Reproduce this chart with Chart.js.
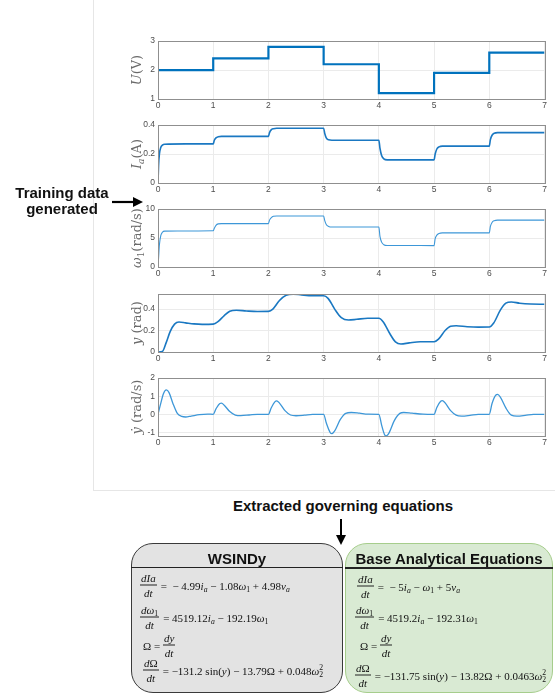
<!DOCTYPE html>
<html>
<head>
<meta charset="utf-8">
<script src="https://cdn.jsdelivr.net/npm/chart.js@4.4.1/dist/chart.umd.min.js"></script>
<style>
  html, body { margin: 0; padding: 0; background: #fff; }
  body { width: 555px; height: 697px; position: relative; overflow: hidden; font-family: "Liberation Sans", Arial, sans-serif; }
  .panel { position: absolute; left: 93px; top: -2px; width: 470px; height: 492px; border-left: 1px solid #e6e6e6; border-bottom: 1px solid #e6e6e6; }
  canvas.plot { position: absolute; left: 100px; }
  .lbl { position: absolute; font-weight: bold; font-size: 15px; color: #111; text-align: center; line-height: 16px; white-space: nowrap; }
  .box { position: absolute; top: 543px; height: 150px; border-radius: 22px; box-sizing: border-box; }
  .grey { left: 131px; width: 212px; background: #e3e3e3; border: 1.5px solid #3a3a3a; }
  .green { left: 345px; width: 208px; background: #d9ead3; border: 1.5px solid #a6cd8c; }
  .rule { position: absolute; height: 1.5px; background: #222; }
  .eq { position: absolute; display: flex; align-items: center; transform: translateY(-50%);
        font-family: "Liberation Serif", "DejaVu Serif", serif; font-size: 11px; color: #111; white-space: nowrap; }
  .eq i { font-style: italic; }
  .frac { display: inline-flex; flex-direction: column; align-items: center; margin-right: 4px; line-height: 12px; }
  .frac > span:first-child { border-bottom: 0.8px solid #222; padding: 0 1px 1px; }
  .frac > span:last-child { padding-top: 1px; }
  .eq sub { font-size: 70%; vertical-align: -0.3em; line-height: 0; }
  .ss { display: inline-flex; flex-direction: column; font-size: 70%; line-height: 7px; vertical-align: middle; }
  .txt { white-space: pre; }
</style>
</head>
<body>
<div class="panel"></div>

<canvas id="cU" class="plot" width="455" height="84" style="top:33px"></canvas>
<canvas id="cIa" class="plot" width="455" height="84" style="top:117px"></canvas>
<canvas id="cW" class="plot" width="455" height="84" style="top:201px"></canvas>
<canvas id="cY" class="plot" width="455" height="84" style="top:286px"></canvas>
<canvas id="cYd" class="plot" width="455" height="84" style="top:370px"></canvas>

<div class="lbl" style="left:2px;top:185px;width:120px">Training data<br>generated</div>
<div class="lbl" style="left:200px;top:498px;width:286px">Extracted governing equations</div>

<svg width="555" height="697" style="position:absolute;left:0;top:0;pointer-events:none">
  <line x1="112" y1="202" x2="136" y2="202" stroke="#000" stroke-width="2.2"/>
  <polygon points="133,197 143,202 133,207" fill="#000"/>
  <line x1="341" y1="519" x2="341" y2="537" stroke="#000" stroke-width="2"/>
  <polygon points="336,535 341,545 346,535" fill="#000"/>
</svg>

<div class="box grey"></div>
<div class="box green"></div>
<div class="rule" style="left:131px;top:566.5px;width:212px"></div>
<div class="rule" style="left:345px;top:567px;width:208px"></div>
<div class="lbl" style="left:131px;top:551px;width:212px;font-size:15px">WSINDy</div>
<div class="lbl" style="left:345px;top:551px;width:208px;font-size:15px">Base Analytical Equations</div>

<!-- WSINDy -->
<div class="eq" style="left:140px;top:585px">
  <span class="frac"><span><i>dIa</i></span><span><i>dt</i></span></span>
  <span class="txt">=  − 4.99<i>i</i><sub><i>a</i></sub> − 1.08<i>ω</i><sub>1</sub> + 4.98<i>v</i><sub><i>a</i></sub></span>
</div>
<div class="eq" style="left:140px;top:617px">
  <span class="frac"><span><i>dω</i><sub>1</sub></span><span><i>dt</i></span></span>
  <span class="txt">= 4519.12<i>i</i><sub><i>a</i></sub> − 192.19<i>ω</i><sub>1</sub></span>
</div>
<div class="eq" style="left:143px;top:645px">
  <span class="txt">Ω = </span>
  <span class="frac"><span><i>dy</i></span><span><i>dt</i></span></span>
</div>
<div class="eq" style="left:143px;top:670px">
  <span class="frac"><span><i>d</i>Ω</span><span><i>dt</i></span></span>
  <span class="txt">= −131.2 sin(<i>y</i>) − 13.79Ω + 0.048<i>ω</i></span><span class="ss"><span>2</span><span>2</span></span>
</div>

<!-- Base analytical -->
<div class="eq" style="left:357px;top:586px">
  <span class="frac"><span><i>dIa</i></span><span><i>dt</i></span></span>
  <span class="txt">=  − 5<i>i</i><sub><i>a</i></sub> − <i>ω</i><sub>1</sub> + 5<i>v</i><sub><i>a</i></sub></span>
</div>
<div class="eq" style="left:355px;top:617px">
  <span class="frac"><span><i>dω</i><sub>1</sub></span><span><i>dt</i></span></span>
  <span class="txt">= 4519.2<i>i</i><sub><i>a</i></sub> − 192.31<i>ω</i><sub>1</sub></span>
</div>
<div class="eq" style="left:360px;top:645px">
  <span class="txt">Ω = </span>
  <span class="frac"><span><i>dy</i></span><span><i>dt</i></span></span>
</div>
<div class="eq" style="left:355px;top:675px">
  <span class="frac"><span><i>d</i>Ω</span><span><i>dt</i></span></span>
  <span class="txt">= −131.75 sin(<i>y</i>) − 13.82Ω + 0.0463<i>ω</i></span><span class="ss"><span>2</span><span>2</span></span>
</div>

<script>
// time axis
const xTicks = [0, 1, 2, 3, 4, 5, 6, 7];

// input voltage (piecewise constant)
const uTime = [0, 1, 2, 3, 4, 5, 6, 7];
const uVolt = [2.0, 2.4, 2.8, 2.2, 1.2, 1.9, 2.6, 2.6];
const uTicks = [1, 2, 3];

// armature current
const iaTime = [0, 0.01, 0.025, 0.05, 0.08, 0.12, 0.5, 1.0,
  1.02, 1.05, 1.09, 1.15, 2.0,
  2.02, 2.05, 2.09, 2.15, 3.0,
  3.02, 3.05, 3.09, 3.15, 4.0,
  4.02, 4.05, 4.09, 4.15, 5.0,
  5.02, 5.05, 5.09, 5.15, 6.0,
  6.02, 6.05, 6.09, 6.15, 7.0];
const iaAmp = [0, 0.12, 0.2, 0.245, 0.262, 0.268, 0.27, 0.27,
  0.295, 0.312, 0.319, 0.322, 0.322,
  0.348, 0.367, 0.375, 0.378, 0.378,
  0.342, 0.31, 0.298, 0.295, 0.295,
  0.24, 0.19, 0.167, 0.16, 0.16,
  0.2, 0.235, 0.25, 0.255, 0.255,
  0.3, 0.33, 0.344, 0.348, 0.348];
const iaTicks = [0, 0.2, 0.4];

// motor speed
const wTime = [0, 0.01, 0.025, 0.05, 0.08, 0.12, 1.0,
  1.02, 1.05, 1.09, 1.15, 2.0,
  2.02, 2.05, 2.09, 2.15, 3.0,
  3.02, 3.05, 3.09, 3.15, 4.0,
  4.02, 4.05, 4.09, 4.15, 5.0,
  5.02, 5.05, 5.09, 5.15, 6.0,
  6.02, 6.05, 6.09, 6.15, 7.0];
const wRad = [0, 1.5, 3.8, 5.4, 6.0, 6.2, 6.25,
  6.7, 7.2, 7.45, 7.5, 7.5,
  8.1, 8.5, 8.75, 8.8, 8.8,
  8.0, 7.3, 7.0, 6.9, 6.9,
  5.3, 4.3, 3.85, 3.72, 3.7,
  4.9, 5.5, 5.8, 5.9, 5.9,
  7.0, 7.7, 8.0, 8.1, 8.1];
const wTicks = [0, 5, 10];

// pendulum angle
const yTime = [0, 0.08, 0.15, 0.22, 0.3, 0.38, 0.5, 0.65, 0.8, 1.0,
  1.08, 1.2, 1.3, 1.42, 1.6, 1.8, 2.0,
  2.08, 2.2, 2.32, 2.45, 2.6, 2.8, 3.0,
  3.08, 3.2, 3.32, 3.45, 3.6, 3.8, 4.0,
  4.08, 4.2, 4.3, 4.4, 4.55, 4.75, 5.0,
  5.08, 5.2, 5.3, 5.4, 5.6, 5.8, 6.0,
  6.08, 6.2, 6.3, 6.4, 6.55, 6.75, 7.0];
const yRad = [0, 0.005, 0.09, 0.19, 0.26, 0.28, 0.272, 0.262, 0.258, 0.26,
  0.28, 0.34, 0.38, 0.39, 0.383, 0.378, 0.379,
  0.40, 0.48, 0.53, 0.54, 0.532, 0.525, 0.525,
  0.50, 0.40, 0.32, 0.298, 0.305, 0.315, 0.315,
  0.28, 0.17, 0.095, 0.075, 0.085, 0.095, 0.095,
  0.12, 0.20, 0.24, 0.245, 0.236, 0.232, 0.233,
  0.27, 0.39, 0.455, 0.467, 0.455, 0.447, 0.445];
const yTicks = [0, 0.2, 0.4];

// pendulum angular rate
const ydTime = [0, 0.05, 0.1, 0.15, 0.2, 0.27, 0.35, 0.43, 0.5, 0.6, 0.75, 0.9, 1.0,
  1.05, 1.12, 1.15, 1.2, 1.3, 1.4, 1.5, 1.65, 1.8, 2.0,
  2.05, 2.12, 2.15, 2.2, 2.3, 2.4, 2.5, 2.65, 2.8, 3.0,
  3.05, 3.12, 3.15, 3.2, 3.3, 3.4, 3.5, 3.65, 3.8, 4.0,
  4.05, 4.1, 4.13, 4.18, 4.28, 4.38, 4.45, 4.6, 4.8, 5.0,
  5.05, 5.12, 5.15, 5.2, 5.3, 5.4, 5.5, 5.65, 5.8, 6.0,
  6.05, 6.12, 6.15, 6.2, 6.3, 6.4, 6.5, 6.65, 6.8, 7.0];
const ydRate = [0, 0.6, 1.15, 1.35, 1.2, 0.6, 0.05, -0.12, -0.15, -0.1, -0.02, 0.01, 0,
  0.3, 0.6, 0.62, 0.5, 0.15, -0.04, -0.07, -0.04, 0, 0,
  0.35, 0.7, 0.74, 0.62, 0.2, -0.04, -0.08, -0.05, 0, 0,
  -0.5, -1.02, -1.07, -0.92, -0.3, 0.05, 0.1, 0.06, 0.01, 0,
  -0.6, -1.1, -1.19, -1.05, -0.35, 0.05, 0.1, 0.06, 0.01, 0,
  0.38, 0.72, 0.75, 0.63, 0.2, -0.05, -0.1, -0.06, 0, 0,
  0.6, 1.07, 1.1, 0.95, 0.35, -0.05, -0.1, -0.06, 0, 0];
const ydTicks = [-1, 0, 1, 2];

// box around the plot area + LaTeX-like y label with mixed fonts
const frameAndLabel = {
  id: "frameAndLabel",
  afterDraw(chart, args, opts) {
    const { ctx, chartArea: a } = chart;
    ctx.save();
    ctx.strokeStyle = "#8f8f8f";
    ctx.lineWidth = 1;
    ctx.strokeRect(Math.round(a.left) + 0.5, Math.round(a.top) + 0.5,
      Math.round(a.right - a.left), Math.round(a.bottom - a.top));

    ctx.translate(opts.x, (a.top + a.bottom) / 2);
    ctx.rotate(-Math.PI / 2);
    const fontFor = (p) => (p.i ? "italic " : "") + (p.sub ? 9 : 13) + "px 'DejaVu Serif'";
    let w = 0;
    opts.parts.forEach((p) => { ctx.font = fontFor(p); w += ctx.measureText(p.t).width; });
    let x = -w / 2;
    ctx.fillStyle = "#6a6a6a";
    opts.parts.forEach((p) => {
      ctx.font = fontFor(p);
      ctx.fillText(p.t, x, 4 + (p.sub ? 3 : 0));
      x += ctx.measureText(p.t).width;
    });
    ctx.restore();
  }
};

const toPoints = (t, v) => t.map((x, i) => ({ x, y: v[i] }));

function makePlot(id, t, v, yMin, yMax, ticks, parts, line) {
  new Chart(document.getElementById(id), {
    type: "line",
    data: {
      datasets: [{
        data: toPoints(t, v),
        borderColor: line.color,
        borderWidth: line.width,
        pointRadius: 0,
        stepped: line.stepped || false,
        cubicInterpolationMode: line.stepped ? "default" : "monotone",
        fill: false
      }]
    },
    options: {
      responsive: false,
      animation: false,
      events: [],
      layout: { padding: { top: 6, right: 10.5, left: 0, bottom: 0 } },
      plugins: {
        legend: { display: false },
        tooltip: { enabled: false },
        frameAndLabel: { x: 37, parts }
      },
      scales: {
        x: {
          type: "linear",
          min: 0,
          max: 7,
          afterBuildTicks: (s) => { s.ticks = xTicks.map((value) => ({ value })); },
          afterFit: (s) => { s.height = 18; },
          ticks: { color: "#4d4d4d", font: { family: "Liberation Sans", size: 8.5 }, padding: 2, maxRotation: 0 },
          grid: { color: "#ebebeb", drawTicks: false },
          border: { color: "#8f8f8f" }
        },
        y: {
          min: yMin,
          max: yMax,
          afterBuildTicks: (s) => { s.ticks = ticks.map((value) => ({ value })); },
          afterFit: (s) => { s.width = 58; },
          ticks: { color: "#4d4d4d", font: { family: "Liberation Sans", size: 8.5 }, padding: 3,
                   callback: (val) => String(val) },
          grid: { color: "#ebebeb", drawTicks: false },
          border: { color: "#8f8f8f" }
        }
      }
    },
    plugins: [frameAndLabel]
  });
}

makePlot("cU", uTime, uVolt, 1, 3, uTicks,
  [{ t: "U", i: 1 }, { t: "(V)" }],
  { color: "#0072BD", width: 2.2, stepped: true });
makePlot("cIa", iaTime, iaAmp, 0, 0.4, iaTicks,
  [{ t: "I", i: 1 }, { t: "a", i: 1, sub: 1 }, { t: "(A)" }],
  { color: "#1a78c2", width: 1.6 });
makePlot("cW", wTime, wRad, 0, 10, wTicks,
  [{ t: "ω", i: 1 }, { t: "1", sub: 1 }, { t: "(rad/s)" }],
  { color: "#3d97d8", width: 1.1 });
makePlot("cY", yTime, yRad, 0, 0.54, yTicks,
  [{ t: "y", i: 1 }, { t: " (rad)" }],
  { color: "#1a78c2", width: 1.6 });
makePlot("cYd", ydTime, ydRate, -1.2, 2, ydTicks,
  [{ t: "ẏ", i: 1 }, { t: " (rad/s)" }],
  { color: "#3d97d8", width: 1.3 });
</script>
</body>
</html>
